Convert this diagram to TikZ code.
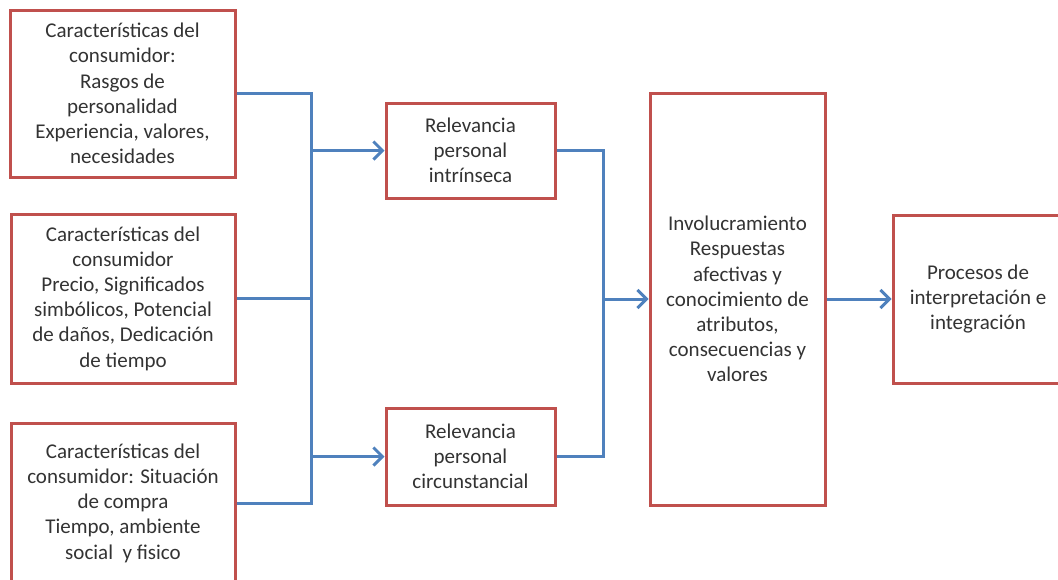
\documentclass[tikz,border=0pt]{standalone}
\usepackage{fontspec}
\setmainfont{Carlito}
\usetikzlibrary{arrows.meta}
\definecolor{boxred}{RGB}{192,80,77}
\definecolor{lineblue}{RGB}{79,129,189}
\begin{document}
\begin{tikzpicture}[x=1pt, y=-1pt,
  box/.style={draw=boxred, line width=3pt, fill=white, align=center,
    inner sep=0pt, text=black!80,
    font=\fontsize{21}{25.2}\selectfont},
  link/.style={draw=lineblue, line width=3pt},
  arr/.style={link, -{Straight Barb[length=9pt, width=18pt]}}]
  \useasboundingbox (0,0) rectangle (1058,579);
  % left column
  \node[box, minimum width=225pt, minimum height=167pt] (A1) at (122.5,93.5)
    {Características del\\consumidor:\\Rasgos de\\personalidad\\Experiencia, valores,\\necesidades};
  \node[box, minimum width=224pt, minimum height=169pt] (A2) at (123,298.5)
    {Características del\\consumidor\\Precio, Significados\\simbólicos, Potencial\\de daños, Dedicación\\de tiempo};
  \node[box, minimum width=224pt, minimum height=160pt] (A3) at (123,503)
    {Características del\\consumidor: Situación\\de compra\\Tiempo, ambiente\\social\ \ y fisico};
  % middle column
  \node[box, minimum width=169pt, minimum height=95pt] (B1) at (470.5,150.5)
    {Relevancia\\personal\\intrínseca};
  \node[box, minimum width=169pt, minimum height=97pt] (B2) at (470.5,456.5)
    {Relevancia\\personal\\circunstancial};
  % right part
  \node[box, minimum width=175pt, minimum height=412pt] (C) at (737.5,299)
    {Involucramiento\\Respuestas\\afectivas y\\conocimiento de\\atributos,\\consecuencias y\\valores};
  \node[box, minimum width=170pt, minimum height=168pt] (D) at (978,299)
    {Procesos de\\interpretación e\\integración};
  \coordinate (bus1) at (311,299);
  \coordinate (bus2) at (603,299);
  \draw[link] (A1.east) -| (bus1) |- (A3.east);
  \draw[link] (A2.east) -- (A2.east -| bus1);
  \draw[arr] (bus1 |- B1.west) -- (B1.west);
  \draw[arr] (bus1 |- B2.west) -- (B2.west);
  \draw[link] (B1.east) -| (bus2) |- (B2.east);
  \draw[arr] (bus2) -- (C.west);
  \draw[arr] (C.east) -- (D.west);
\end{tikzpicture}
\end{document}
